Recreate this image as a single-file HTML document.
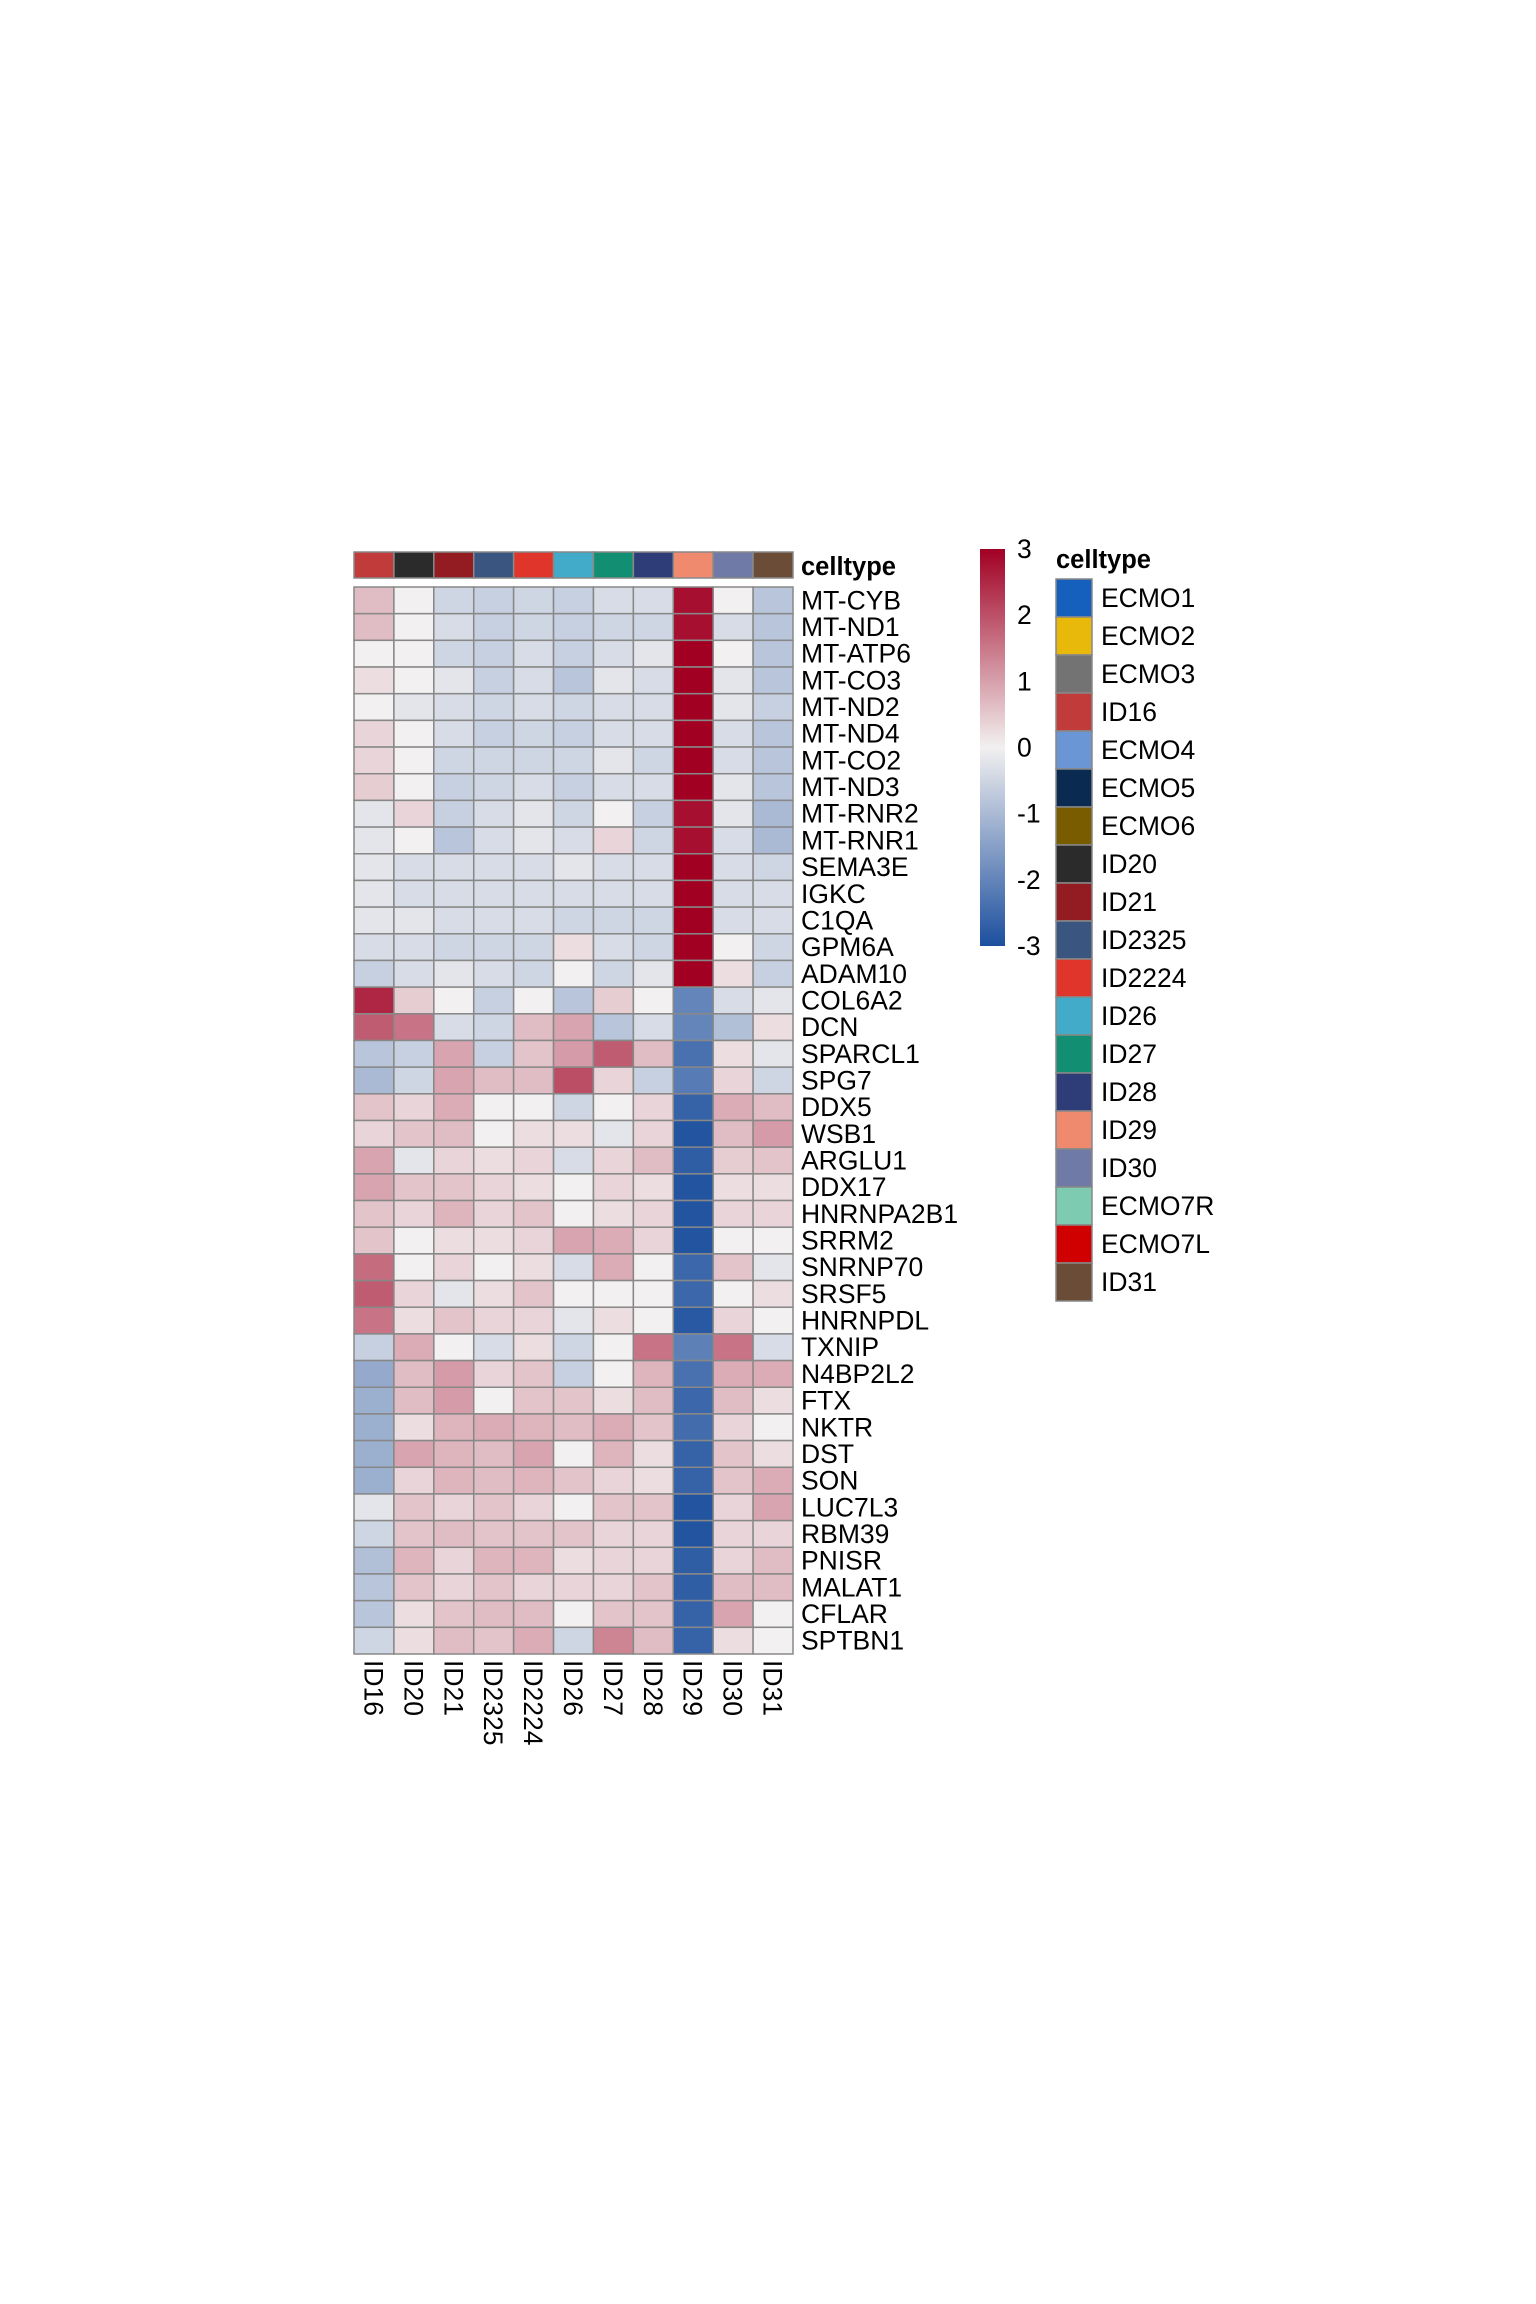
<!DOCTYPE html>
<html><head><meta charset="utf-8"><style>
body{margin:0;background:#fff}
svg{display:block}
text{font-family:"Liberation Sans",Arial,sans-serif;fill:#000}
</style></head><body>
<svg id="chart" width="1536" height="2304" viewBox="0 0 1536 2304" xmlns="http://www.w3.org/2000/svg">
<defs><linearGradient id="cbgrad" x1="0" y1="0" x2="0" y2="1">
<stop offset="0" stop-color="#a10023"/><stop offset="0.5" stop-color="#f2f0f0"/><stop offset="1" stop-color="#1c4f9e"/>
</linearGradient></defs>
<g id="cells"></g>
<g id="labels"></g>
<g id="legend"></g>
</svg>
<script>
const samples = ["ID16","ID20","ID21","ID2325","ID2224","ID26","ID27","ID28","ID29","ID30","ID31"];
const sampleColors = ["#c23b3b","#2b2b2b","#921c22","#3a5680","#e0352a","#42abca","#128f72","#2e3c78","#f08a6e","#6f7aa6","#6b4c36"];
const genes = ["MT-CYB","MT-ND1","MT-ATP6","MT-CO3","MT-ND2","MT-ND4","MT-CO2","MT-ND3","MT-RNR2","MT-RNR1","SEMA3E","IGKC","C1QA","GPM6A","ADAM10","COL6A2","DCN","SPARCL1","SPG7","DDX5","WSB1","ARGLU1","DDX17","HNRNPA2B1","SRRM2","SNRNP70","SRSF5","HNRNPDL","TXNIP","N4BP2L2","FTX","NKTR","DST","SON","LUC7L3","RBM39","PNISR","MALAT1","CFLAR","SPTBN1"];
const values = [
[0.6,0,-0.4,-0.5,-0.4,-0.5,-0.3,-0.3,2.8,0,-0.7],
[0.6,0,-0.3,-0.5,-0.4,-0.5,-0.4,-0.4,2.8,-0.3,-0.7],
[0,0,-0.4,-0.5,-0.3,-0.5,-0.3,-0.15,3,0,-0.7],
[0.2,0,-0.15,-0.5,-0.3,-0.7,-0.15,-0.3,3,-0.15,-0.7],
[0,-0.15,-0.3,-0.4,-0.3,-0.4,-0.3,-0.3,3,-0.15,-0.5],
[0.3,0,-0.3,-0.5,-0.4,-0.5,-0.3,-0.3,3,-0.3,-0.7],
[0.3,0,-0.4,-0.4,-0.4,-0.4,-0.15,-0.4,3,-0.3,-0.7],
[0.4,0,-0.5,-0.4,-0.3,-0.5,-0.3,-0.3,3,-0.15,-0.7],
[-0.15,0.3,-0.5,-0.3,-0.15,-0.4,0,-0.5,2.8,-0.15,-0.9],
[-0.15,0,-0.7,-0.3,-0.15,-0.3,0.3,-0.4,2.8,-0.3,-0.9],
[-0.15,-0.3,-0.3,-0.3,-0.3,-0.15,-0.3,-0.3,3,-0.3,-0.4],
[-0.15,-0.3,-0.3,-0.3,-0.3,-0.3,-0.3,-0.3,3,-0.3,-0.3],
[-0.15,-0.15,-0.3,-0.3,-0.3,-0.4,-0.4,-0.4,3,-0.3,-0.3],
[-0.3,-0.3,-0.4,-0.4,-0.4,0.2,-0.3,-0.4,3,0,-0.4],
[-0.5,-0.3,-0.15,-0.3,-0.4,0,-0.4,-0.15,3,0.2,-0.5],
[2.5,0.4,0,-0.5,0,-0.7,0.4,0,-1.9,-0.3,-0.15],
[1.8,1.5,-0.3,-0.4,0.6,0.9,-0.7,-0.3,-1.9,-0.8,0.2],
[-0.7,-0.5,0.9,-0.5,0.5,1.0,1.8,0.6,-2.3,0.2,-0.15],
[-0.9,-0.4,0.9,0.6,0.6,2.0,0.3,-0.5,-2.1,0.3,-0.4],
[0.5,0.3,0.8,0,0,-0.4,0,0.3,-2.6,0.8,0.6],
[0.3,0.5,0.6,0,0.2,0.2,-0.15,0.3,-2.9,0.6,1.0],
[0.9,-0.15,0.3,0.2,0.3,-0.3,0.3,0.6,-2.7,0.4,0.5],
[0.9,0.5,0.5,0.3,0.2,0,0.3,0.2,-2.9,0.2,0.2],
[0.5,0.3,0.7,0.3,0.5,0,0.2,0.3,-2.9,0.3,0.3],
[0.5,0,0.2,0.2,0.3,0.9,0.8,0.3,-2.9,0,0],
[1.6,0,0.3,0,0.2,-0.3,0.8,0,-2.5,0.5,-0.15],
[1.8,0.3,-0.15,0.2,0.5,0,0,0,-2.5,0,0.2],
[1.5,0.2,0.5,0.3,0.3,-0.15,0.2,0,-2.8,0.3,0],
[-0.5,0.8,0,-0.3,0.2,-0.4,0,1.5,-2.0,1.5,-0.3],
[-1.2,0.6,1.0,0.3,0.5,-0.5,0,0.7,-2.3,0.8,0.8],
[-1.1,0.6,1.0,0,0.5,0.5,0.2,0.6,-2.5,0.6,0.2],
[-1.1,0.2,0.7,0.8,0.7,0.6,0.8,0.5,-2.4,0.3,0],
[-1.1,0.9,0.7,0.6,0.9,0,0.7,0.2,-2.6,0.5,0.2],
[-1.1,0.3,0.7,0.6,0.7,0.5,0.3,0.2,-2.6,0.5,0.8],
[-0.15,0.5,0.3,0.5,0.3,0,0.5,0.5,-2.9,0.3,0.9],
[-0.4,0.5,0.6,0.5,0.5,0.5,0.3,0.3,-2.9,0.3,0.3],
[-0.8,0.7,0.3,0.7,0.7,0.2,0.3,0.3,-2.7,0.3,0.6],
[-0.7,0.5,0.3,0.5,0.3,0.3,0.3,0.5,-2.7,0.6,0.6],
[-0.7,0.2,0.5,0.6,0.6,0,0.5,0.5,-2.6,0.9,0],
[-0.4,0.2,0.6,0.5,0.8,-0.4,1.3,0.6,-2.6,0.2,0]
];
const colorTicks = [3,2,1,0,-1,-2,-3];
const legendLabels = ["ECMO1","ECMO2","ECMO3","ID16","ECMO4","ECMO5","ECMO6","ID20","ID21","ID2325","ID2224","ID26","ID27","ID28","ID29","ID30","ECMO7R","ECMO7L","ID31"];
const legendColors = ["#1560bd","#e8b80a","#737373","#c23b3b","#6a96d6","#0a2a52","#7a5c00","#2b2b2b","#921c22","#3a5680","#e0352a","#42abca","#128f72","#2e3c78","#f08a6e","#6f7aa6","#7dcbb0","#d10000","#6b4c36"];

const NS="http://www.w3.org/2000/svg";
const X0=354,X1=793,Y0=587,Y1=1654;
const cw=(X1-X0)/samples.length, ch=(Y1-Y0)/genes.length;
const xPos=i=>X0+i*cw, yPos=j=>Y0+j*ch;
const cbTop=549,cbBot=946;
const cbY=v=>cbTop+(3-v)/6*(cbBot-cbTop);
function mix(a,b,t){return a.map((x,i)=>Math.round(x+(b[i]-x)*t));}
function color(v){
  v=Math.max(-3,Math.min(3,v));
  const w=[242,240,240],r=[161,0,35],b=[28,79,158];
  const c=v>=0?mix(w,r,Math.pow(v/3,0.95)):mix(w,b,Math.pow(-v/3,0.9));
  return `rgb(${c[0]},${c[1]},${c[2]})`;
}
function mk(tag,attrs,parent){const e=document.createElementNS(NS,tag);for(const k in attrs)e.setAttribute(k,attrs[k]);parent.appendChild(e);return e;}
const cells=document.getElementById('cells'),labels=document.getElementById('labels'),legend=document.getElementById('legend');

samples.forEach((s,i)=>{
  const r=mk('rect',{x:xPos(i),y:552,width:cw,height:26,fill:sampleColors[i],stroke:'#888','stroke-width':1.5},cells);
  
  
});
values.forEach((row,j)=>row.forEach((v,i)=>{
  const r=mk('rect',{x:xPos(i),y:yPos(j),width:cw,height:ch,fill:color(v),stroke:'#888','stroke-width':1.5},cells);
  
  
}));
const FS=26.5;
const LX=801;
let t=mk('text',{x:LX,y:575,'font-size':25.5,'font-weight':'bold'},labels);t.textContent='celltype';


genes.forEach((g,j)=>{
  const e=mk('text',{x:LX,y:yPos(j)+ch/2+9,'font-size':FS},labels);e.textContent=g;
  
  
});
samples.forEach((s,i)=>{
  const cx=xPos(i)+cw/2,cy=1660;
  const e=mk('text',{x:0,y:0,'font-size':FS,transform:`translate(${cx-9.5},${cy}) rotate(90)`},labels);e.textContent=s;
  
  
});
const cb=mk('rect',{x:980,y:cbTop,width:25,height:cbBot-cbTop,fill:'url(#cbgrad)'},legend);


colorTicks.forEach(v=>{
  const e=mk('text',{x:1017,y:cbY(v)+9,'font-size':FS},legend);e.textContent=String(v);
  
  
});
t=mk('text',{x:1056,y:568,'font-size':25.5,'font-weight':'bold'},legend);t.textContent='celltype';


const lh=38;
legendLabels.forEach((l,k)=>{
  const y=579+k*lh;
  const r=mk('rect',{x:1056,y:y,width:36,height:lh,fill:legendColors[k],stroke:'#888','stroke-width':1.5},legend);
  
  
  const e=mk('text',{x:1101,y:y+lh/2+9,'font-size':FS},legend);e.textContent=l;
  
  
});
</script>
</body></html>
